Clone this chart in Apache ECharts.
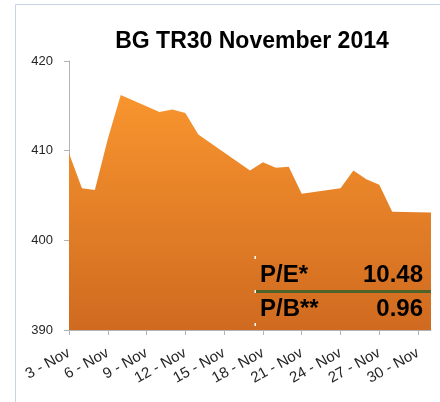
<!DOCTYPE html>
<html>
<head>
<meta charset="utf-8">
<script src="https://cdn.jsdelivr.net/npm/echarts@6/dist/echarts.min.js"></script>
<style>
  html, body { margin: 0; padding: 0; background: #fff; }
  #chart { width: 440px; height: 402px; }
</style>
</head>
<body>
<div id="chart"></div>
<script>
// trading days of November 2014, weekends left empty (null) and bridged
var days = [
  "3 - Nov", "4 - Nov", "5 - Nov", "6 - Nov", "7 - Nov", "8 - Nov", "9 - Nov",
  "10 - Nov", "11 - Nov", "12 - Nov", "13 - Nov", "14 - Nov", "15 - Nov", "16 - Nov",
  "17 - Nov", "18 - Nov", "19 - Nov", "20 - Nov", "21 - Nov", "22 - Nov", "23 - Nov",
  "24 - Nov", "25 - Nov", "26 - Nov", "27 - Nov", "28 - Nov", "29 - Nov", "30 - Nov",
  "1 - Dec"
];
var indexValues = [
  409.7, 405.8, 405.6, 411.3, 416.2, null, null,
  414.3, 414.6, 414.2, 411.8, 410.8, null, null,
  407.8, 408.7, 408.1, 408.2, 405.2, null, null,
  405.8, 407.8, 406.8, 406.2, 403.2, null, null,
  403.1
];
var yTicks = [390, 400, 410, 420];
var ratioNames = ["P/E*", "P/B**"];
var ratioValues = ["10.48", "0.96"];

var chart = echarts.init(document.getElementById("chart"));

chart.setOption({
  animation: false,
  textStyle: {
    fontFamily: "Liberation Sans",
  },
  grid: {
    left: 69,
    top: 61,
    right: 9,
    bottom: 72,
  },
  xAxis: {
    type: "category",
    data: days,
    boundaryGap: false,
    axisLine: {
      lineStyle: { color: "#b3b3b3", width: 1 },
    },
    axisTick: {
      show: true,
      interval: 2,
      length: 5,
      lineStyle: { color: "#b3b3b3" },
    },
    axisLabel: {
      interval: 2,
      rotate: 29,
      margin: 22,
      color: "#262626",
      fontSize: 15,
    },
  },
  yAxis: {
    type: "value",
    min: yTicks[0],
    max: yTicks[yTicks.length - 1],
    interval: 10,
    axisLine: {
      show: true,
      lineStyle: { color: "#b3b3b3", width: 1 },
    },
    axisTick: {
      show: true,
      length: 5,
      lineStyle: { color: "#b3b3b3" },
    },
    axisLabel: {
      margin: 16,
      color: "#262626",
      fontSize: 13,
    },
    splitLine: { show: false },
  },
  series: [
    {
      type: "line",
      data: indexValues,
      connectNulls: true,
      showSymbol: false,
      lineStyle: { width: 0 },
      areaStyle: {
        opacity: 1,
        color: new echarts.graphic.LinearGradient(0, 0, 0, 1, [
          { offset: 0, color: "#f8952e" },
          { offset: 1, color: "#d06a20" },
        ]),
      },
      z: 2,
    },
  ],
  graphic: [
    // chart frame
    {
      type: "line",
      shape: { x1: 15.5, y1: 4.5, x2: 15.5, y2: 402 },
      style: { stroke: "#c3d3e8", lineWidth: 1 },
    },
    {
      type: "line",
      shape: { x1: 15.5, y1: 4.5, x2: 440, y2: 4.5 },
      style: { stroke: "#c3d3e8", lineWidth: 1 },
    },
    {
      type: "text",
      x: 252,
      y: 42,
      style: {
        text: "BG TR30 November 2014",
        fontFamily: "Liberation Sans",
        fontWeight: "bold",
        fontSize: 23,
        fill: "#000",
        textAlign: "center",
        textVerticalAlign: "middle",
      },
    },
    // ratio box
    {
      type: "text",
      x: 260,
      y: 275,
      z: 10,
      style: {
        text: ratioNames[0],
        fontFamily: "Liberation Sans",
        fontWeight: "bold",
        fontSize: 24,
        fill: "#000",
        textAlign: "left",
        textVerticalAlign: "middle",
      },
    },
    {
      type: "text",
      x: 423,
      y: 275,
      z: 10,
      style: {
        text: ratioValues[0],
        fontFamily: "Liberation Sans",
        fontWeight: "bold",
        fontSize: 24,
        fill: "#000",
        textAlign: "right",
        textVerticalAlign: "middle",
      },
    },
    {
      type: "text",
      x: 260,
      y: 309,
      z: 10,
      style: {
        text: ratioNames[1],
        fontFamily: "Liberation Sans",
        fontWeight: "bold",
        fontSize: 24,
        fill: "#000",
        textAlign: "left",
        textVerticalAlign: "middle",
      },
    },
    {
      type: "text",
      x: 423,
      y: 309,
      z: 10,
      style: {
        text: ratioValues[1],
        fontFamily: "Liberation Sans",
        fontWeight: "bold",
        fontSize: 24,
        fill: "#000",
        textAlign: "right",
        textVerticalAlign: "middle",
      },
    },
    {
      type: "rect",
      z: 10,
      shape: { x: 255, y: 290, width: 176, height: 3 },
      style: { fill: "#4f6228" },
    },
    // text box handles
    {
      type: "rect",
      z: 11,
      shape: { x: 254.5, y: 256, width: 1.5, height: 3 },
      style: { fill: "#fff" },
    },
    {
      type: "rect",
      z: 11,
      shape: { x: 254.5, y: 290, width: 1.5, height: 3 },
      style: { fill: "#fff" },
    },
    {
      type: "rect",
      z: 11,
      shape: { x: 254.5, y: 323, width: 1.5, height: 3 },
      style: { fill: "#fff" },
    },
  ],
});
</script>
</body>
</html>
